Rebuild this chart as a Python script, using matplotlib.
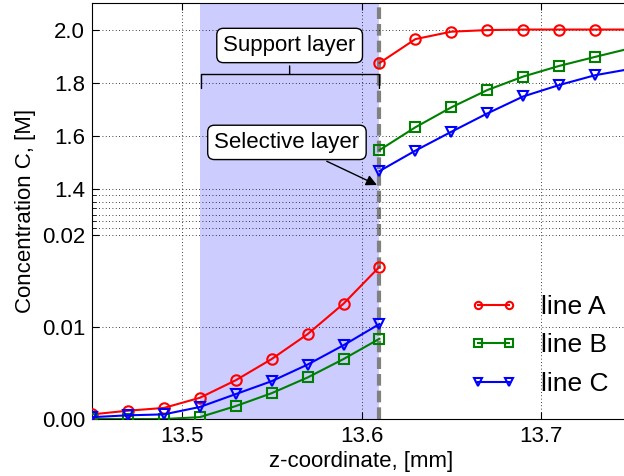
import numpy as np
import matplotlib
matplotlib.use("Agg")
import matplotlib.pyplot as plt
from matplotlib.ticker import FixedLocator, FuncFormatter

plt.rcParams['font.family'] = ['Liberation Sans', 'DejaVu Sans']

# data
z_low = [13.45, 13.47, 13.49, 13.51, 13.53, 13.55, 13.57, 13.59, 13.61]
a_low = [0.0005, 0.0009, 0.0012, 0.0023, 0.0042, 0.0065, 0.0092, 0.0125, 0.0165]
b_low = [0.0, 0.0, 0.0, 0.0002, 0.0014, 0.0028, 0.0045, 0.0065, 0.0087]
c_low = [0.0002, 0.0004, 0.0005, 0.0013, 0.0027, 0.0041, 0.0059, 0.0080, 0.0103]

z_high = [13.61, 13.63, 13.65, 13.67, 13.69, 13.71, 13.73, 13.75]
a_high = [1.874, 1.964, 1.992, 1.998, 2.0, 2.0, 2.0, 2.0]
b_high = [1.546, 1.632, 1.707, 1.772, 1.823, 1.863, 1.897, 1.930]
c_high = [1.467, 1.544, 1.615, 1.684, 1.748, 1.791, 1.828, 1.852]

support = (13.51, 13.61)
interface = 13.61

labels = ['line A', 'line B', 'line C']
colors = ['r', 'g', 'b']
markers = ['o', 's', 'v']

# broken y scale: 0..0.02 and 1.4..2.1 with a squeezed gap between
LO, HI = 0.02, 1.4
S1 = 9230.0          # units per value on the low part
GAP = 45.7           # height of the gap
S2 = 265.7           # units per value on the high part


def fwd(y):
    y = np.asarray(y, dtype=float)
    return np.where(y <= LO, y * S1,
                    np.where(y < HI, LO * S1 + (y - LO) * GAP / (HI - LO),
                             LO * S1 + GAP + (y - HI) * S2))


def inv(t):
    t = np.asarray(t, dtype=float)
    t1 = LO * S1
    t2 = t1 + GAP
    return np.where(t <= t1, t / S1,
                    np.where(t < t2, LO + (t - t1) * (HI - LO) / GAP,
                             HI + (t - t2) / S2))


fig = plt.figure(figsize=(6.24, 4.76), dpi=100)
ax = fig.add_axes([92 / 624, 57 / 476, 539 / 624, 416 / 476])
ax.set_yscale('function', functions=(fwd, inv))

ax.axvspan(support[0], support[1], color='#ccccff', lw=0, zorder=0)
ax.axvline(interface, color='0.5', lw=3, ls=(0, (2.8, 1.2)), zorder=1.5)

for lo, hi, lab, col, mk in zip([a_low, b_low, c_low], [a_high, b_high, c_high],
                                labels, colors, markers):
    ax.plot(z_low, lo, color=col, marker=mk, ms=7.5, mfc='none', mec=col,
            mew=1.5, lw=1.5, label=lab, zorder=3)
    ax.plot(z_high, hi, color=col, marker=mk, ms=7.5, mfc='none', mec=col,
            mew=1.5, lw=1.5, zorder=3)

ax.set_xlim(13.45, 13.75)
ax.set_ylim(0, 2.1)

major = [0.0, 0.01, 0.02, 1.4, 1.6, 1.8, 2.0]
ax.yaxis.set_major_locator(FixedLocator(major))
ax.yaxis.set_major_formatter(FuncFormatter(lambda v, p: '%.2f' % v if v < 1 else '%.1f' % v))
gap_lines = [LO + k * (HI - LO) / 7 for k in range(1, 7)]
ax.yaxis.set_minor_locator(FixedLocator(gap_lines))
ax.set_xticks([13.5, 13.6, 13.7])
ax.set_xticklabels(['13.5', '13.6', '13.7'])

ax.tick_params(which='both', direction='in', top=True, right=True, labelsize=16)
ax.tick_params(which='major', length=5, pad=5)
ax.tick_params(which='minor', length=3)
ax.grid(True, which='both', color='k', ls=(0, (1, 3)), lw=0.6)

ax.set_xlabel('z-coordinate, [mm]', fontsize=16, labelpad=3)
ax.set_ylabel('Concentration C, [M]', fontsize=16)

box = dict(boxstyle='round,pad=0.3', fc='white', ec='k')
ax.annotate('Support layer', xy=(13.56, 1.833), xytext=(13.56, 1.94),
            ha='center', va='center', fontsize=16, bbox=box,
            arrowprops=dict(arrowstyle='-[, widthB=4.0, lengthB=0.65',
                            color='k', lw=1, shrinkB=0))
ax.annotate('Selective layer', xy=(13.61, 1.41), xytext=(13.5585, 1.575),
            ha='center', va='center', fontsize=16, bbox=box,
            arrowprops=dict(arrowstyle='-|>', color='k', lw=1))

leg = ax.legend(loc='upper left', bbox_to_anchor=(446 / 624, 1 - 271 / 476),
                bbox_transform=fig.transFigure, frameon=False, fontsize=19,
                numpoints=2, markerscale=0.7, handlelength=1.8,
                labelspacing=0.55, handletextpad=0.9)

fig.savefig('out.png', dpi=100)
